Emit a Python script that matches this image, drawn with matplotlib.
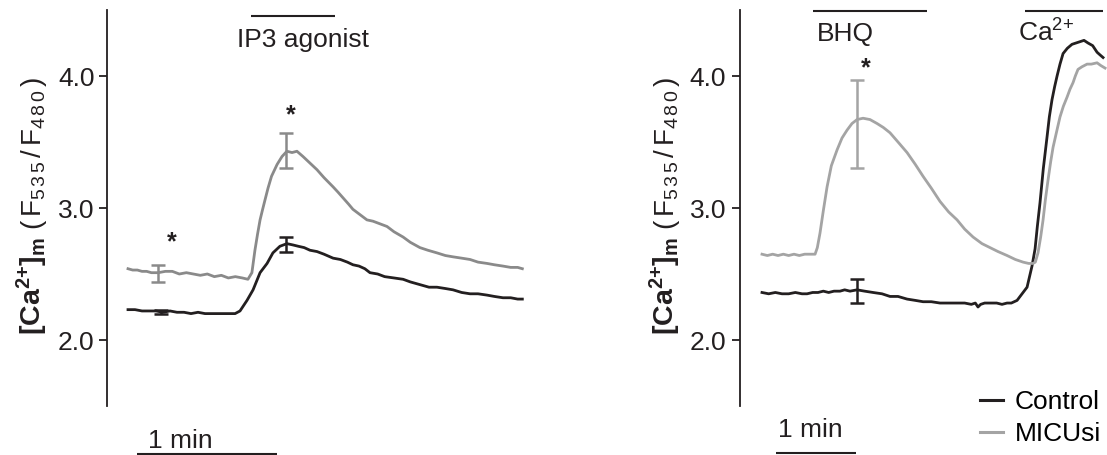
import matplotlib
matplotlib.use('Agg')
import matplotlib.pyplot as plt
from matplotlib.lines import Line2D

plt.rcParams['font.family'] = ['Liberation Sans', 'DejaVu Sans']
plt.rcParams['mathtext.fontset'] = 'custom'
plt.rcParams['mathtext.rm'] = 'Liberation Sans'
plt.rcParams['mathtext.bf'] = 'Liberation Sans:bold'
plt.rcParams['mathtext.it'] = 'Liberation Sans:italic'

# ---------------- data (time in s, ratio F535/F480) ----------------
left_ctrl_t = [0, 3, 6, 9, 12, 15, 18, 21, 24, 27, 30, 33, 36, 39, 42,
               44, 45.9, 48, 51, 53.6, 56.6, 59.6, 62.1, 65.1, 68.1,
               70.7, 73, 75.5, 78, 81, 84, 87.9, 91, 94, 96.4,
               99, 101.5, 103.7, 107, 110, 114, 117.9, 121, 125, 129,
               132.4, 136, 139.3, 143, 146.6, 150, 153.9, 157, 160.7, 164,
               167, 169]
left_ctrl_v = [2.23, 2.23, 2.22, 2.22, 2.22, 2.21, 2.22, 2.21, 2.21, 2.20, 2.21, 2.20, 2.20, 2.20, 2.20,
               2.20, 2.20, 2.22, 2.30, 2.38, 2.51, 2.58, 2.66, 2.71, 2.73,
               2.72, 2.71, 2.70, 2.68, 2.67, 2.65, 2.62, 2.61, 2.59, 2.57,
               2.56, 2.54, 2.51, 2.50, 2.48, 2.47, 2.46, 2.44, 2.42, 2.40,
               2.40, 2.39, 2.38, 2.36, 2.35, 2.35, 2.34, 2.33, 2.32, 2.32,
               2.31, 2.31]

left_micu_t = [0, 2, 4, 6, 8, 10, 13, 16, 19, 22, 25, 28, 31, 34, 37, 40,
               43, 46, 49, 51.4, 53.1, 54.4, 55.5, 56.6, 57.7, 58.7,
               60, 61.5, 63.9, 66, 68.1, 70.3, 72.4, 75, 78, 81,
               84, 87.9, 90, 92.5, 94.5, 96.4, 99.4, 102.4, 105, 108,
               111, 114, 117.9, 121, 125.1, 128.5, 132.4, 136, 139.3, 143,
               146.6, 150, 153.9, 157, 160.7, 164, 167, 169]
left_micu_v = [2.54, 2.53, 2.53, 2.52, 2.52, 2.51, 2.51, 2.52, 2.52, 2.50, 2.51, 2.50, 2.49, 2.50, 2.48, 2.49,
               2.47, 2.48, 2.47, 2.46, 2.51, 2.68, 2.80, 2.91, 2.99, 3.06,
               3.15, 3.24, 3.33, 3.39, 3.43, 3.42, 3.43, 3.39, 3.34, 3.29,
               3.23, 3.16, 3.12, 3.07, 3.03, 2.99, 2.95, 2.91, 2.90, 2.88,
               2.86, 2.82, 2.78, 2.74, 2.70, 2.68, 2.66, 2.64, 2.63, 2.62,
               2.61, 2.59, 2.58, 2.57, 2.56, 2.55, 2.55, 2.54]

right_ctrl_t = [0, 5, 10, 15, 20, 25, 30, 33.8, 38, 42,
                46, 50, 54, 58.5, 62, 66, 71.3, 77, 83.3, 90,
                96, 102, 108.8, 115, 120.8, 127, 133.5, 140, 146.3, 152,
                157, 160, 162, 164, 167, 171, 176, 180, 183.8, 187,
                191.3, 195.8, 198.8, 202.5, 204.8, 206.5, 208.5, 211, 213.8, 215.5,
                217.5, 219.5, 221.3, 223.5, 225.8, 229, 232.5, 235.5, 238.5, 241.5,
                244.5, 248, 251.3, 253.5, 255.8]
right_ctrl_v = [2.36, 2.35, 2.36, 2.35, 2.35, 2.36, 2.35, 2.35, 2.36, 2.36,
                2.37, 2.36, 2.37, 2.37, 2.38, 2.37, 2.38, 2.37, 2.36, 2.35,
                2.33, 2.33, 2.31, 2.30, 2.29, 2.29, 2.28, 2.28, 2.28, 2.28,
                2.27, 2.28, 2.25, 2.27, 2.28, 2.28, 2.28, 2.27, 2.28, 2.28,
                2.30, 2.36, 2.40, 2.56, 2.69, 2.86, 3.04, 3.30, 3.54, 3.69,
                3.82, 3.92, 4.00, 4.09, 4.17, 4.21, 4.24, 4.25, 4.26, 4.27,
                4.25, 4.23, 4.18, 4.16, 4.14]

right_micu_t = [0, 4, 8, 12, 16, 20, 24, 28, 32, 36,
                39.8, 41.5, 43.5, 46, 48.8, 52, 56.3, 60, 63.8, 67.5,
                71.3, 75.8, 81, 86.3, 91, 96, 102, 108.8, 115, 120.8,
                127, 133.5, 140, 146.3, 152, 158.3, 165, 171, 177, 183.8,
                190, 195.8, 200, 203.3, 205, 207, 209, 210.8, 212.5, 214.5,
                216.5, 218.3, 221, 223.5, 226, 228.8, 231, 233.3, 235, 237,
                240, 243.8, 247, 251.3, 254, 257.3]
right_micu_v = [2.65, 2.64, 2.65, 2.64, 2.65, 2.64, 2.65, 2.64, 2.65, 2.65,
                2.65, 2.70, 2.81, 2.98, 3.16, 3.32, 3.44, 3.53, 3.59, 3.64,
                3.67, 3.68, 3.67, 3.64, 3.61, 3.57, 3.50, 3.42, 3.33, 3.24,
                3.15, 3.05, 2.97, 2.91, 2.84, 2.78, 2.73, 2.70, 2.67, 2.64,
                2.61, 2.59, 2.58, 2.58, 2.59, 2.66, 2.78, 2.91, 3.06, 3.21,
                3.35, 3.46, 3.58, 3.69, 3.77, 3.84, 3.90, 3.95, 4.00, 4.05,
                4.07, 4.09, 4.09, 4.10, 4.08, 4.06]

# error bars: time, mean, sem
left_err_ctrl_t = [14.1, 67.7]
left_err_ctrl_m = [2.215, 2.725]
left_err_ctrl_e = [0.015, 0.055]
left_err_micu_t = [12.9, 67.7]
left_err_micu_m = [2.505, 3.435]
left_err_micu_e = [0.065, 0.135]
right_err_ctrl_t = [71.3]
right_err_ctrl_m = [2.37]
right_err_ctrl_e = [0.09]
right_err_micu_t = [71.3]
right_err_micu_m = [3.635]
right_err_micu_e = [0.335]

yticks = [2.0, 3.0, 4.0]
ytick_labels = ['2.0', '3.0', '4.0']
series_labels = ['Control', 'MICUsi']

for a, b in [(left_ctrl_t, left_ctrl_v), (left_micu_t, left_micu_v),
             (right_ctrl_t, right_ctrl_v), (right_micu_t, right_micu_v)]:
    assert len(a) == len(b)

# ---------------- style ----------------
BLACK = '#231f20'
GRAY_L = '#8a8a8a'
GRAY_R = '#a4a4a4'
FS = 19
LW = 2.0

W, H = 1107, 455
fig = plt.figure(figsize=(W / 100, H / 100), dpi=100)


def px_axes(l, r, t, b):
    return fig.add_axes([l / W, 1 - b / H, (r - l) / W, (b - t) / H])


axL = px_axes(107, 525, 10, 406)
axR = px_axes(740, 1107, 10, 406)

axL.set_xlim(-9.0, 170.14)
axR.set_xlim(-16.5, 258.75)

for ax, pad in ((axL, 3), (axR, 4)):
    ax.set_ylim(1.5, 4.5)
    for s in ('top', 'right', 'bottom'):
        ax.spines[s].set_visible(False)
    ax.spines['left'].set_linewidth(1.3)
    ax.spines['left'].set_color(BLACK)
    ax.set_xticks([])
    ax.set_yticks(yticks)
    ax.set_yticklabels(ytick_labels)
    ax.tick_params(axis='y', direction='out', length=6, width=1.3,
                   labelsize=FS, pad=pad, color=BLACK, labelcolor=BLACK)
    ax.patch.set_visible(False)

# traces
axL.plot(left_ctrl_t, left_ctrl_v, color=BLACK, lw=LW)
axL.plot(left_micu_t, left_micu_v, color=GRAY_L, lw=LW)
axR.plot(right_ctrl_t, right_ctrl_v, color=BLACK, lw=LW)
axR.plot(right_micu_t, right_micu_v, color=GRAY_R, lw=LW)

ekw = dict(fmt='none', elinewidth=1.8, capsize=5, capthick=1.8)
axL.errorbar(left_err_ctrl_t, left_err_ctrl_m, yerr=left_err_ctrl_e, ecolor=BLACK, **ekw)
axL.errorbar(left_err_micu_t, left_err_micu_m, yerr=left_err_micu_e, ecolor=GRAY_L, **ekw)
axR.errorbar(right_err_ctrl_t, right_err_ctrl_m, yerr=right_err_ctrl_e, ecolor=BLACK, **ekw)
axR.errorbar(right_err_micu_t, right_err_micu_m, yerr=right_err_micu_e, ecolor=GRAY_R, **ekw)

# asterisks
star_kw = dict(ha='center', va='center', fontsize=18, fontweight='bold', color=BLACK)
axL.text(18.9, 2.74, '*', **star_kw)
axL.text(69.9, 3.70, '*', **star_kw)
axR.text(78.0, 4.06, '*', **star_kw)

# treatment bars
bar_kw = dict(color=BLACK, lw=1.5, clip_on=False, solid_capstyle='butt')
axL.plot([52.7, 88.7], [4.457, 4.457], **bar_kw)
axL.text(46.7, 4.222, 'IP3 agonist', ha='left', va='baseline', fontsize=FS, color=BLACK)
axR.plot([38.3, 123.8], [4.495, 4.495], **bar_kw)
axR.text(41.3, 4.267, 'BHQ', ha='left', va='baseline', fontsize=FS, color=BLACK)
axR.plot([197.3, 255.8], [4.495, 4.495], **bar_kw)
axR.text(192.0, 4.26, 'Ca$^{2{+}}$', ha='left', va='baseline', fontsize=FS, color=BLACK)

# scale bars (1 min)
axL.plot([3.9, 63.9], [1.139, 1.139], **bar_kw)
axL.text(22.3, 1.184, '1 min', ha='center', va='baseline', fontsize=FS, color=BLACK)
axR.plot([10.5, 70.5], [1.146, 1.146], **bar_kw)
axR.text(36.0, 1.268, '1 min', ha='center', va='baseline', fontsize=FS, color=BLACK)

# y labels (bold ion part + regular ratio part)
ylab_bold = r'$\mathbf{[Ca^{2{+}}]_m}$'
ylab_reg = r'$\mathrm{(\,F_{5\,3\,5}\,/\,F_{4\,8\,0}\,)}$'
for xb in (41, 674):
    fig.text(xb / W, 1 - 335 / H, ylab_bold, rotation=90, rotation_mode='anchor',
             ha='left', va='baseline', fontsize=20.5, color=BLACK)
    fig.text(xb / W, 1 - 230 / H, ylab_reg, rotation=90, rotation_mode='anchor',
             ha='left', va='baseline', fontsize=20, color=BLACK)

# legend
handles = [Line2D([], [], color=BLACK, lw=2.2), Line2D([], [], color=GRAY_R, lw=2.2)]
fig.legend(handles, series_labels, loc='upper left',
           bbox_to_anchor=(980 / W, 1 - 390 / H), frameon=False, fontsize=FS,
           handlelength=0.87, handletextpad=0.45, labelspacing=0.31,
           borderpad=0, borderaxespad=0)

fig.savefig('out.png', dpi=100)
